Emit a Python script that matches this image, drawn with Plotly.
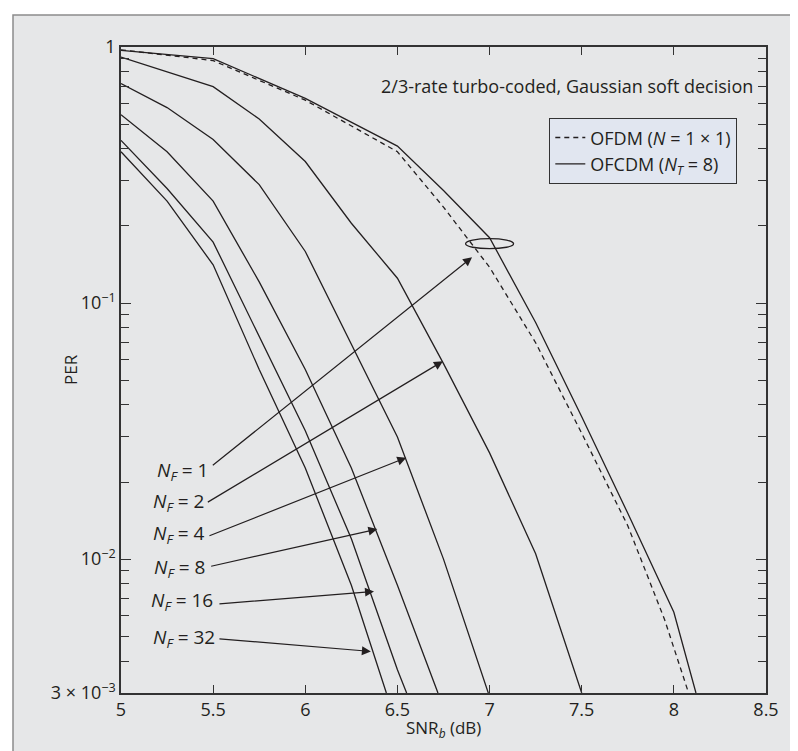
import numpy as np
import plotly.graph_objects as go

# ---------------- data ----------------
ofdm_x = [5.0, 5.5, 6.0, 6.5, 6.75, 7.0, 7.25, 7.5, 7.75, 7.95, 8.08]
ofdm_y = [0.975, 0.885, 0.62, 0.39, 0.237, 0.138, 0.070, 0.031, 0.0135, 0.0058, 0.003]

nf1_x = [5.0, 5.5, 6.0, 6.5, 6.75, 7.0, 7.25, 7.5, 7.75, 8.0, 8.12]
nf1_y = [0.97, 0.90, 0.63, 0.41, 0.275, 0.18, 0.084, 0.036, 0.0151, 0.0062, 0.003]

nf2_x = [5.0, 5.5, 5.75, 6.0, 6.25, 6.5, 6.75, 7.0, 7.25, 7.5]
nf2_y = [0.914, 0.70, 0.523, 0.357, 0.205, 0.125, 0.058, 0.026, 0.0105, 0.003]

nf4_x = [5.0, 5.25, 5.5, 5.75, 6.0, 6.25, 6.5, 6.75, 7.0]
nf4_y = [0.72, 0.58, 0.435, 0.29, 0.159, 0.069, 0.030, 0.0100, 0.0029]

nf8_x = [5.0, 5.25, 5.5, 5.75, 6.0, 6.25, 6.5, 6.72]
nf8_y = [0.544, 0.39, 0.25, 0.121, 0.055, 0.0227, 0.0079, 0.003]

nf16_x = [5.0, 5.25, 5.5, 5.75, 6.0, 6.25, 6.5, 6.55]
nf16_y = [0.432, 0.28, 0.173, 0.074, 0.0317, 0.012, 0.0037, 0.003]

nf32_x = [5.0, 5.25, 5.5, 5.75, 6.0, 6.25, 6.44]
nf32_y = [0.39, 0.25, 0.141, 0.055, 0.0227, 0.0079, 0.003]

x_ticks = [5, 5.5, 6, 6.5, 7, 7.5, 8, 8.5]
x_ticktext = ["5", "5.5", "6", "6.5", "7", "7.5", "8", "8.5"]
y_ticks = [0.003, 0.01, 0.1, 1]
y_ticktext = ["3 × 10<sup>−3</sup>", "10<sup>−2</sup>", "10<sup>−1</sup>", "1"]
y_minor = [0.004, 0.005, 0.006, 0.007, 0.008, 0.009,
           0.02, 0.03, 0.04, 0.05, 0.06, 0.07, 0.08, 0.09,
           0.2, 0.3, 0.4, 0.5, 0.6, 0.7, 0.8, 0.9]

# N_F labels and arrows (label right edge / arrow tail / arrow tip)
nf_labels = ["1", "2", "4", "8", "16", "32"]
label_x = [5.481, 5.463, 5.463, 5.467, 5.512, 5.523]
label_y = [0.0220, 0.0167, 0.01253, 0.00923, 0.00684, 0.00491]
tail_x = [5.49, 5.463, 5.472, 5.481, 5.526, 5.526]
tail_y = [0.0230, 0.01656, 0.01227, 0.00935, 0.00668, 0.00489]
tip_x = [6.905, 6.747, 6.548, 6.391, 6.373, 6.356]
tip_y = [0.151, 0.0593, 0.0249, 0.0131, 0.00748, 0.00436]

# ellipse marking the N_F = 1 / OFDM pair
ellipse_x = 7.0
ellipse_y = 0.163

# ---------------- styling ----------------
FONT = "Open Sans"
INK = "#231f20"
PLOT_BG = "#e1e6f0"
PANEL_BG = "#e6e7e8"
W, H = 798, 751
ML, MR, MT, MB = 113, 40, 39, 66
PW, PH = W - ML - MR, H - MT - MB


def px2paper_x(px):
    return (px - ML) / PW


def px2paper_y(py):
    return (H - MB - py) / PH


fig = go.Figure()

line_style = dict(color=INK, width=1.3)
fig.add_trace(go.Scatter(x=ofdm_x, y=ofdm_y, mode="lines",
                         line=dict(color=INK, width=1.3, dash="5px,4px"),
                         name="OFDM (<i>N</i> = 1 × 1)", showlegend=True))
fig.add_trace(go.Scatter(x=nf1_x, y=nf1_y, mode="lines", line=line_style,
                         name="OFCDM (<i>N<sub>T</sub></i> = 8)", showlegend=True))
for xs, ys, nm in [(nf2_x, nf2_y, "N_F=2"), (nf4_x, nf4_y, "N_F=4"),
                   (nf8_x, nf8_y, "N_F=8"), (nf16_x, nf16_y, "N_F=16"),
                   (nf32_x, nf32_y, "N_F=32")]:
    fig.add_trace(go.Scatter(x=xs, y=ys, mode="lines", line=line_style,
                             name=nm, showlegend=False))

annotations = []
for lab, lx, ly in zip(nf_labels, label_x, label_y):
    annotations.append(dict(
        x=lx, y=np.log10(ly), xref="x", yref="y", xanchor="right", yanchor="middle",
        text="<i>N<sub>F</sub></i> = " + lab, showarrow=False,
        font=dict(family=FONT, size=19, color=INK)))
for ax_, ay_, tx, ty in zip(tail_x, tail_y, tip_x, tip_y):
    annotations.append(dict(
        x=tx, y=np.log10(ty), xref="x", yref="y",
        ax=ax_, ay=np.log10(ay_), axref="x", ayref="y",
        text="", showarrow=True, arrowhead=2, arrowsize=1.5, arrowwidth=1.2,
        arrowcolor=INK, standoff=0, startstandoff=0))

annotations.append(dict(
    x=px2paper_x(747), y=px2paper_y(78), xref="paper", yref="paper",
    xanchor="right", yanchor="middle", showarrow=False,
    text="2/3-rate turbo-coded, Gaussian soft decision",
    font=dict(family=FONT, size=18, color=INK)))
annotations.append(dict(
    x=px2paper_x(62), y=0.5, xref="paper", yref="paper", textangle=-90,
    xanchor="center", yanchor="middle", showarrow=False, text="PER",
    font=dict(family=FONT, size=17, color=INK)))
annotations.append(dict(
    x=0.5, y=px2paper_y(720), xref="paper", yref="paper",
    xanchor="center", yanchor="middle", showarrow=False,
    text="SNR<sub><i>b</i></sub> (dB)",
    font=dict(family=FONT, size=17, color=INK)))

shapes = [
    dict(type="rect", xref="paper", yref="paper", layer="below",
         x0=px2paper_x(5), x1=px2paper_x(795), y0=px2paper_y(760), y1=px2paper_y(7),
         fillcolor=PANEL_BG, line=dict(color="#8c8c8c", width=1.5)),
    dict(type="circle", xref="x", yref="y", xsizemode="pixel", ysizemode="pixel",
         xanchor=ellipse_x, yanchor=ellipse_y, x0=-24, x1=24, y0=-10, y1=10,
         line=dict(color=INK, width=1.3)),
]

axis_common = dict(
    showline=True, linecolor="#333333", linewidth=1.5, mirror="ticks",
    ticks="inside", tickcolor="#333333", tickwidth=1.2,
    showgrid=False, zeroline=False,
    tickfont=dict(family=FONT, size=18, color=INK),
)

fig.update_layout(
    width=W, height=H,
    margin=dict(l=ML, r=MR, t=MT, b=MB, pad=0),
    paper_bgcolor="white", plot_bgcolor=PLOT_BG,
    font=dict(family=FONT, color=INK),
    xaxis=dict(range=[5, 8.5], tickmode="array", tickvals=x_ticks,
               ticktext=x_ticktext, ticklen=8, **axis_common),
    yaxis=dict(type="log", range=[np.log10(0.003), 0], tickmode="array",
               tickvals=y_ticks, ticktext=y_ticktext, ticklen=10,
               minor=dict(tickmode="array", tickvals=y_minor, ticks="inside",
                          ticklen=8, tickcolor="#333333", tickwidth=1.2,
                          showgrid=False),
               **axis_common),
    legend=dict(x=px2paper_x(729), y=px2paper_y(110), xanchor="right", yanchor="top",
                bgcolor=PLOT_BG, bordercolor="#333333", borderwidth=1.3,
                font=dict(family=FONT, size=18, color=INK),
                tracegroupgap=0, itemwidth=30),
    annotations=annotations,
    shapes=shapes,
    showlegend=True,
)

fig.write_html("out.html")
